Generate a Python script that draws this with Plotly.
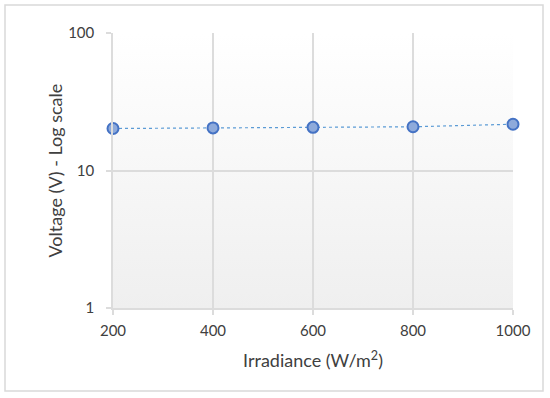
import plotly.graph_objects as go
import urllib.parse

irradiance = [200, 400, 600, 800, 1000]
voltage = [20.2, 20.4, 20.6, 20.8, 21.7]
y_tick_vals = [1, 10, 100]
y_tick_text = ["1", "10", "100"]

W, H = 550, 398
ml, mr, mt, mb = 113, 37, 33, 90
pw, ph = W - ml - mr, H - mt - mb

svg = ('<svg xmlns="http://www.w3.org/2000/svg" width="100" height="100" preserveAspectRatio="none">'
       '<defs><linearGradient id="g" x1="0" y1="0" x2="0" y2="1">'
       '<stop offset="0" stop-color="#ffffff"/><stop offset="1" stop-color="#efefef"/>'
       '</linearGradient></defs><rect width="100" height="100" fill="url(#g)"/></svg>')
bg_uri = "data:image/svg+xml;charset=utf-8," + urllib.parse.quote(svg)

fig = go.Figure()
fig.add_trace(go.Scatter(
    x=irradiance, y=voltage, mode="lines+markers",
    line=dict(color="#5b9bd5", width=1.2, dash="dot"),
    marker=dict(size=11, color="#8eaadb", line=dict(color="#4472c4", width=2)),
    showlegend=False, cliponaxis=False,
))

font = "Lato, 'Open Sans', sans-serif"
fig.update_layout(
    width=W, height=H,
    margin=dict(l=ml, r=mr, t=mt, b=mb),
    paper_bgcolor="white", plot_bgcolor="rgba(0,0,0,0)",
    font=dict(family=font, size=14, color="#404040"),
    images=[dict(source=bg_uri, xref="paper", yref="paper", x=0, y=1,
                 sizex=1, sizey=1, sizing="stretch", layer="below",
                 xanchor="left", yanchor="top")],
    xaxis=dict(range=[200, 1000], tickvals=irradiance, ticktext=[str(v) for v in irradiance],
               showgrid=True, gridcolor="#dcdcdc", gridwidth=1.5,
               showline=True, linecolor="#dcdcdc", linewidth=1.5,
               ticks="outside", ticklen=5, tickcolor="#dcdcdc", tickwidth=1.5,
               ticklabelstandoff=3, zeroline=False,
               title=dict(text="Irradiance (W/m<sup>2</sup>)", font=dict(size=18), standoff=17),
               tickfont=dict(size=15)),
    yaxis=dict(type="log", range=[0, 2], tickvals=y_tick_vals, ticktext=y_tick_text,
               showgrid=True, gridcolor="#dcdcdc", gridwidth=1.5,
               showline=True, linecolor="#dcdcdc", linewidth=1.5,
               ticks="outside", ticklen=5, tickcolor="#dcdcdc", tickwidth=1.5,
               ticklabelstandoff=9, zeroline=False,
               tickfont=dict(size=15)),
    annotations=[dict(text="Voltage (V) - Log scale", textangle=-90,
                      xref="paper", yref="paper", x=(54 - ml) / pw, y=0.5,
                      xanchor="center", yanchor="middle", showarrow=False,
                      font=dict(size=18, color="#404040"))],
    shapes=[dict(type="rect", xref="paper", yref="paper",
                 x0=(5 - ml) / pw, x1=(543 - ml) / pw,
                 y0=(H - mb - 391) / ph, y1=(H - mb - 5) / ph,
                 line=dict(color="#d9d9d9", width=1.5), fillcolor="rgba(0,0,0,0)",
                 layer="below")],
)

fig.write_html("out.html", config={"displayModeBar": False},
               post_script="document.body.style.margin='0';")
